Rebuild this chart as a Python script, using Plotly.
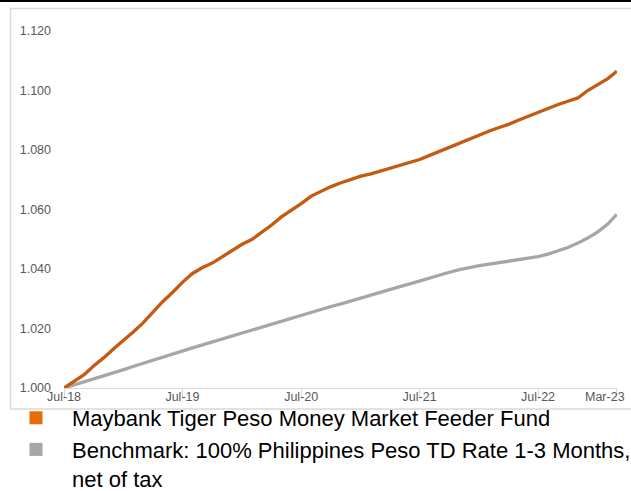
import pandas as pd
import plotly.graph_objects as go

dates = pd.date_range(start="2018-07-01", periods=57, freq="MS")

fund = [1.0000, 1.0022, 1.0045, 1.0075, 1.0102, 1.0132, 1.0160, 1.0190, 1.0218, 1.0255,
        1.0290, 1.0322, 1.0355, 1.0385, 1.0405, 1.0420, 1.0442, 1.0462, 1.0483, 1.0500,
        1.0522, 1.0548, 1.0575, 1.0597, 1.0620, 1.0645, 1.0662, 1.0677, 1.0690, 1.0702,
        1.0712, 1.0720, 1.0729, 1.0740, 1.0751, 1.0760, 1.0768, 1.0782, 1.0796, 1.0810,
        1.0824, 1.0836, 1.0850, 1.0864, 1.0875, 1.0886, 1.0900, 1.0914, 1.0928, 1.0942,
        1.0953, 1.0964, 1.0975, 1.1000, 1.1020, 1.1040, 1.1065]

benchmark = [1.0000, 1.0010, 1.0021, 1.0031, 1.0042, 1.0052, 1.0062, 1.0073, 1.0083, 1.0094,
             1.0104, 1.0114, 1.0125, 1.0135, 1.0145, 1.0155, 1.0165, 1.0174, 1.0184, 1.0194,
             1.0204, 1.0214, 1.0224, 1.0234, 1.0244, 1.0254, 1.0264, 1.0274, 1.0283, 1.0293,
             1.0302, 1.0312, 1.0322, 1.0331, 1.0341, 1.0350, 1.0360, 1.0370, 1.0379, 1.0389,
             1.0398, 1.0405, 1.0411, 1.0416, 1.0421, 1.0426, 1.0431, 1.0436, 1.0442, 1.0450,
             1.0460, 1.0472, 1.0487, 1.0504, 1.0525, 1.0551, 1.0584]

x_tick_dates = ["2018-07-01", "2019-07-01", "2020-07-01", "2021-07-01", "2022-07-01", "2023-03-01"]
x_tick_labels = ["Jul-18", "Jul-19", "Jul-20", "Jul-21", "Jul-22", "Mar-23"]
y_tick_vals = [1.000, 1.020, 1.040, 1.060, 1.080, 1.100, 1.120]

fund_name = "Maybank Tiger Peso Money Market Feeder Fund"
bench_name = "Benchmark: 100% Philippines Peso TD Rate 1-3 Months,<br>net of tax"

FUND_LINE = "#C55A11"
FUND_SQ = "#E46C0A"
BENCH = "#A6A6A6"
AXIS_TXT = "#595959"

fig = go.Figure()
fig.add_trace(go.Scatter(x=dates, y=benchmark, mode="lines", line=dict(color=BENCH, width=3.3),
                         showlegend=False, name=bench_name))
fig.add_trace(go.Scatter(x=dates, y=fund, mode="lines", line=dict(color=FUND_LINE, width=3.3),
                         showlegend=False, name=fund_name))
# legend entries (square swatches)
fig.add_trace(go.Scatter(x=[None], y=[None], mode="markers",
                         marker=dict(symbol="square", size=13, color=FUND_SQ), name=fund_name))
fig.add_trace(go.Scatter(x=[None], y=[None], mode="markers",
                         marker=dict(symbol="square", size=13, color=BENCH), name=bench_name))

L, R, T, B = 64, 14, 31, 103
W, H = 631, 491
pw, ph = W - L - R, H - T - B

def px(x):
    return (x - L) / pw

def py(y):
    return (H - B - y) / ph

# the last label sits pulled inward (as in the original) so it fits in the frame
shown_labels = x_tick_labels[:-1] + [""]

fig.update_layout(
    width=W, height=H,
    margin=dict(l=L, r=R, t=T, b=B, autoexpand=False),
    paper_bgcolor="white", plot_bgcolor="white",
    font=dict(family="Liberation Sans, Arial, sans-serif", color=AXIS_TXT),
    legend=dict(x=px(0), y=py(397), xanchor="left", yanchor="top",
                font=dict(size=22, color="#000000"), valign="top",
                itemwidth=62, tracegroupgap=0, bgcolor="rgba(0,0,0,0)"),
    xaxis=dict(type="date", range=["2018-07-01", "2023-03-01 10:00"],
               tickvals=x_tick_dates, ticktext=shown_labels,
               showgrid=False, zeroline=False, showline=True, linecolor="#D9D9D9", linewidth=1,
               ticks="outside", ticklen=8, tickcolor="#D9D9D9", ticklabeloverflow="allow",
               ticklabelstandoff=-11,
               tickfont=dict(size=12.5, color=AXIS_TXT)),
    yaxis=dict(range=[1.0, 1.12], tickvals=y_tick_vals, tickformat=".3f",
               showgrid=False, zeroline=False, showline=False, ticks="",
               ticklabelstandoff=12,
               tickfont=dict(size=12.5, color=AXIS_TXT)),
    annotations=[
        dict(x=x_tick_dates[-1], xref="x", y=0, yref="paper", text=x_tick_labels[-1],
             showarrow=False, xanchor="right", yanchor="middle", xshift=10, yshift=-8.5,
             font=dict(size=12.5, color=AXIS_TXT)),
    ],
    shapes=[
        dict(type="rect", xref="paper", yref="paper", x0=px(10.5), x1=px(640), y0=py(409), y1=py(8.5),
             line=dict(color="#D9D9D9", width=1.5), fillcolor="rgba(0,0,0,0)", layer="below"),
        dict(type="line", xref="paper", yref="paper", x0=px(-5), x1=px(640), y0=py(1), y1=py(1),
             line=dict(color="#000000", width=2)),
    ],
)

fig.write_html("out.html", config={"displayModeBar": False},
               post_script="document.body.style.margin='0';")
